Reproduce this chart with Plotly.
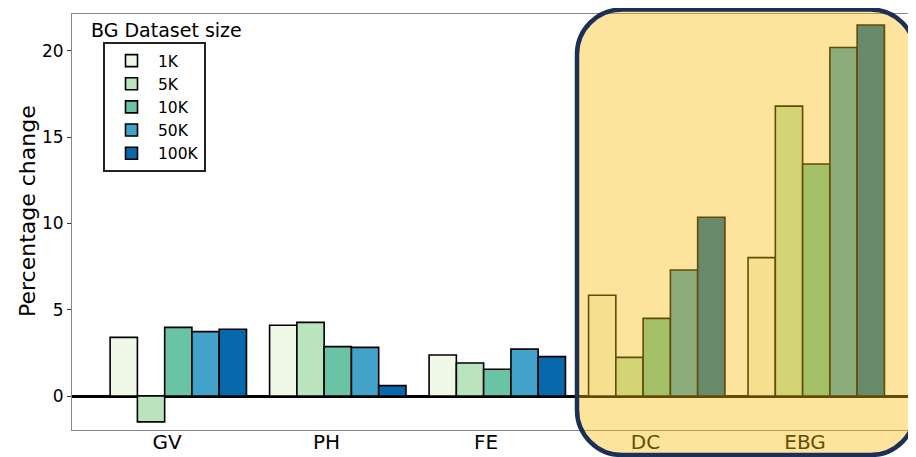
import plotly.graph_objects as go

categories = ["GV", "PH", "FE", "DC", "EBG"]
sizes = ["1K", "5K", "10K", "50K", "100K"]
v_1k = [3.40, 4.10, 2.38, 5.84, 8.02]
v_5k = [-1.50, 4.27, 1.91, 2.24, 16.8]
v_10k = [3.98, 2.86, 1.55, 4.50, 13.45]
v_50k = [3.73, 2.82, 2.72, 7.30, 20.2]
v_100k = [3.87, 0.60, 2.28, 10.36, 21.5]
series = [v_1k, v_5k, v_10k, v_50k, v_100k]
colors = ["#f0f9e8", "#bae4bc", "#6bc3a5", "#43a2ca", "#0868ac"]

FONT = "DejaVu Sans"
W, H = 916, 457
OFF = 8  # page body margin of the browser
REF_L, REF_T, REF_B, REF_R = 72, 14, 430, 916  # plot box in screen pixels
ML = REF_L - OFF
MT = REF_T - OFF
MB = H - (REF_B - OFF)
MR = W - (REF_R - OFF)
PW, PH = W - ML - MR, H - MT - MB

BAR_W = 0.171
GROUP_OFF = -0.357

fig = go.Figure()
for i, (name, vals, col) in enumerate(zip(sizes, series, colors)):
    fig.add_trace(go.Bar(
        x=categories, y=vals, name=name,
        width=BAR_W, offset=GROUP_OFF + i * BAR_W,
        marker=dict(color=col, line=dict(color="black", width=1.6)),
        legendgroup=name,
    ))


def px_x(p):
    return (p - REF_L) / PW


def px_y(p):
    return (REF_B - p) / PH


# highlight box
x0, x1 = px_x(577), px_x(915.5)
y0, y1 = px_y(455), px_y(9.5)
rx, ry = 45 / PW, 45 / PH
k = 0.5523
path = (
    f"M{x0+rx},{y1} L{x1-rx},{y1} "
    f"C{x1-rx+k*rx},{y1} {x1},{y1-ry+k*ry} {x1},{y1-ry} "
    f"L{x1},{y0+ry} "
    f"C{x1},{y0+ry-k*ry} {x1-rx+k*rx},{y0} {x1-rx},{y0} "
    f"L{x0+rx},{y0} "
    f"C{x0+rx-k*rx},{y0} {x0},{y0+ry-k*ry} {x0},{y0+ry} "
    f"L{x0},{y1-ry} "
    f"C{x0},{y1-ry+k*ry} {x0+rx-k*rx},{y1} {x0+rx},{y1} Z"
)
fig.add_shape(type="path", path=path, xref="paper", yref="paper",
              fillcolor="rgba(250,188,8,0.4)",
              line=dict(color="#1b2f57", width=4.5), layer="above")

fig.add_annotation(text="BG Dataset size", xref="paper", yref="paper",
                   x=px_x(89), y=px_y(30), xanchor="left", yanchor="middle",
                   showarrow=False, font=dict(family=FONT, size=19, color="black"))

fig.add_annotation(text="Percentage change", xref="paper", yref="paper",
                   x=px_x(27), y=px_y(211), xanchor="center", yanchor="middle",
                   textangle=-90, showarrow=False,
                   font=dict(family=FONT, size=22, color="black"))

fig.update_layout(
    width=W, height=H,
    margin=dict(l=ML, r=MR, t=MT, b=MB, autoexpand=False),
    paper_bgcolor="white", plot_bgcolor="white",
    barmode="overlay",
    font=dict(family=FONT, color="black"),
    showlegend=True,
    legend=dict(
        x=px_x(103), y=px_y(42), xanchor="left", yanchor="top",
        bgcolor="white", bordercolor="#222", borderwidth=2,
        font=dict(family=FONT, size=15.5, color="black"),
        traceorder="normal", tracegroupgap=7, itemwidth=43,
    ),
    xaxis=dict(
        range=[-0.596, 4.696], showline=True, linecolor="#888", linewidth=1,
        mirror=True, ticks="", automargin=False, ticklabelstandoff=-6,
        tickfont=dict(family=FONT, size=20, color="black"),
        showgrid=False,
    ),
    yaxis=dict(
        range=[-1.97, 22.14], showline=True, linecolor="#888", linewidth=1,
        ticks="outside", ticklen=4, tickcolor="#333", automargin=False,
        tickvals=[0, 5, 10, 15, 20],
        tickfont=dict(family=FONT, size=17, color="black"),
        showgrid=False, zeroline=True, zerolinecolor="black", zerolinewidth=2.6,
    ),
)

fig.write_html("out.html")
